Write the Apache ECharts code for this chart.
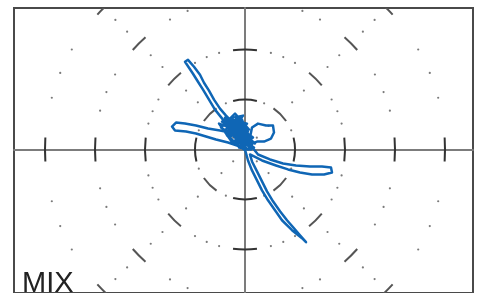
<!DOCTYPE html>
<html><head><meta charset="utf-8">
<script src="https://cdn.jsdelivr.net/npm/echarts@6/dist/echarts.min.js"></script>
<style>html,body{margin:0;padding:0;background:#fff}#c{width:479px;height:293px}</style>
</head><body><div id="c"></div>
<script>
// Graticule values (scope units: 50 units per ring)
const rings = [50, 100, 150, 200];
const axisTickAngles = [0, 90, 180, 270];
const diagAngles = [45, 135, 225, 315];
const ringDotAngles = [15, 22.5, 30, 60, 67.5, 75];
const innerRingDotAngles = [22.5, 67.5];
const diagDotRadii = [16.7, 33.3, 66.7, 83.3, 116.7, 133.3, 166.7, 183.3];
const labelText = 'MIX';
// Trace (x = left/right, y = up/down)
const traceX = [0,-6,-14,-22,-30,-36,-42,-47,-52,-56,-60,-57,-51,-45,-41,-36,-31,-25,-19,-12,-6,-1,
  -17,-7,-13,-1,-9,-3,5,-5,-15,1,-9,7,-19,-5,3,-11,-1,-7,-15,-3,5,-9,-17,1,-23,-13,-7,-1,9,3,-5,-11,-19,-13,-5,1,
  -22,-2,-18,4,-10,-24,0,8,-14,-6,6,-20,2,-12,-26,-4,10,-16,-8,4,
  -15,-25,-37,-49,-60,-69,-73,-70,-59,-49,-39,-29,-17,-5,
  5,7,13,21,28,29,26,19,12,5,
  13,25,38,51,65,77,86,87,79,67,55,43,31,17,5,
  7,12,17,22,28,35,42,49,55,61,57,47,37,30,23,17,12,7,3,0,
  -4,-12,-6,-16,-8,2,-10,-2,6,-6,0];
const traceY = [5,10,20,30,40,50,60,68,76,82,88,90,83,75,67,59,50,41,34,27,20,13,
  30,20,15,22,32,10,12,26,22,4,8,4,25,15,18,26,0,4,12,30,8,20,18,14,28,22,12,8,2,0,6,16,20,30,22,10,
  30,34,14,20,36,22,6,12,28,2,0,32,26,6,26,18,6,20,30,14,
  17,19,21,24,26,27,23,19,18,16,13,10,7,3,
  12,22,26,24,24,17,11,8,8,5,
  -5,-10,-14,-16,-17,-17,-18,-23,-25,-25,-23,-20,-16,-11,-5,
  -12,-22,-32,-42,-52,-62,-71,-79,-86,-93,-89,-81,-71,-61,-51,-41,-31,-21,-11,0,
  6,14,18,24,28,20,12,16,6,10,2];
const trace = traceX.map((x, i) => [x, traceY[i]]);

const chart = echarts.init(document.getElementById('c'), null, {renderer: 'canvas'});

function renderGraticule(params, api) {
  const c = api.coord([0, 0]);
  const k = api.size([1, 1])[0];
  const kids = [];
  const rad = a => a * Math.PI / 180;
  const arc = (R, a, half, color) => ({
    type: 'arc',
    shape: {cx: c[0], cy: c[1], r: R, startAngle: -rad(a) - half / R, endAngle: -rad(a) + half / R, clockwise: true},
    style: {stroke: color, lineWidth: 2, fill: null}
  });
  const dot = (R, a) => ({
    type: 'circle',
    shape: {cx: c[0] + R * Math.cos(rad(a)), cy: c[1] - R * Math.sin(rad(a)), r: 1.1},
    style: {fill: '#7a7a7a'}
  });
  rings.forEach((r, i) => {
    const R = r * k;
    axisTickAngles.forEach(a => kids.push(arc(R, a, 12, '#333')));
    diagAngles.forEach(a => kids.push(arc(R, a, 9, '#555')));
    const dots = i === 0 ? innerRingDotAngles : ringDotAngles;
    [0, 90, 180, 270].forEach(q => dots.forEach(a => kids.push(dot(R, q + a))));
  });
  diagAngles.forEach(a => diagDotRadii.forEach(r => kids.push(dot(r * k, a))));
  return {type: 'group', children: kids};
}

chart.setOption({
  animation: false,
  backgroundColor: '#fff',
  grid: {left: 14, right: 6, top: 8, bottom: -1, show: true, borderColor: '#4a4a4a', borderWidth: 2, backgroundColor: '#fff'},
  xAxis: {type: 'value', min: -231, max: 228, axisLine: {onZero: true, lineStyle: {color: '#7c7c7c', width: 2}},
    axisTick: {show: false}, axisLabel: {show: false}, splitLine: {show: false}},
  yAxis: {type: 'value', min: -144, max: 142, axisLine: {onZero: true, lineStyle: {color: '#7c7c7c', width: 2}},
    axisTick: {show: false}, axisLabel: {show: false}, splitLine: {show: false}},
  graphic: [{type: 'text', left: 22, top: 269, z: 10,
    style: {text: labelText, font: '29px "Liberation Sans", Arial, sans-serif', fill: '#222'}}],
  series: [
    {type: 'custom', clip: true, renderItem: renderGraticule, data: [[0, 0]], silent: true, z: 1},
    {type: 'line', data: trace, showSymbol: false, symbol: 'none', smooth: false,
      lineStyle: {color: '#0f66b5', width: 2.5, join: 'round'}, z: 3}
  ]
});
</script></body></html>
